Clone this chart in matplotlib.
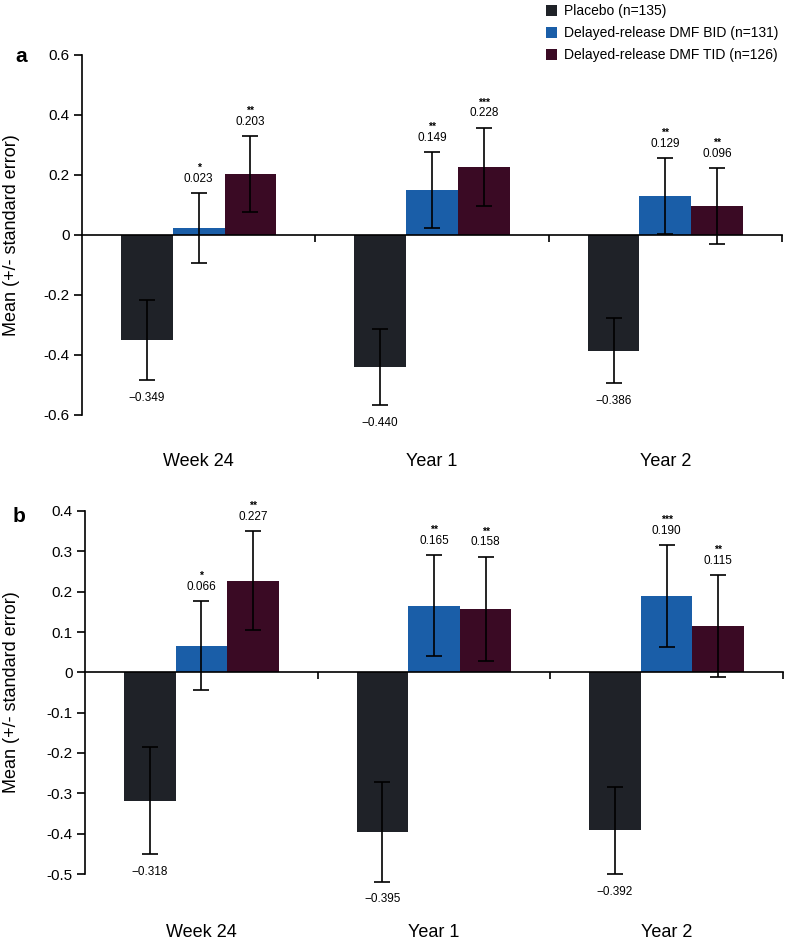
import matplotlib
matplotlib.use("Agg")
import matplotlib.pyplot as plt
import matplotlib.transforms as mtransforms
from matplotlib.patches import Patch
import numpy as np

plt.rcParams['font.family'] = ['Liberation Sans', 'DejaVu Sans']

groups = ["Week 24", "Year 1", "Year 2"]
series = ["Placebo (n=135)", "Delayed-release DMF BID (n=131)", "Delayed-release DMF TID (n=126)"]
colors = ["#1f2228", "#1a5ea8", "#3a0a24"]

# Panel a
a_means = [[-0.349, -0.440, -0.386],
           [0.023, 0.149, 0.129],
           [0.203, 0.228, 0.096]]
a_se = [[0.134, 0.128, 0.108],
        [0.117, 0.127, 0.127],
        [0.126, 0.130, 0.126]]
a_stars = [["", "", ""],
           ["*", "**", "**"],
           ["**", "***", "**"]]
a_yticks = [0.6, 0.4, 0.2, 0, -0.2, -0.4, -0.6]
a_yticklabels = ["0.6", "0.4", "0.2", "0", "-0.2", "-0.4", "-0.6"]

# Panel b
b_means = [[-0.318, -0.395, -0.392],
           [0.066, 0.165, 0.190],
           [0.227, 0.158, 0.115]]
b_se = [[0.132, 0.124, 0.108],
        [0.111, 0.125, 0.126],
        [0.123, 0.129, 0.126]]
b_stars = [["", "", ""],
           ["*", "**", "***"],
           ["**", "**", "**"]]
b_yticks = [0.4, 0.3, 0.2, 0.1, 0, -0.1, -0.2, -0.3, -0.4, -0.5]
b_yticklabels = ["0.4", "0.3", "0.2", "0.1", "0", "-0.1", "-0.2", "-0.3", "-0.4", "-0.5"]

W, H = 787, 942
fig = plt.figure(figsize=(W / 100, H / 100), dpi=100)

def fig_rect(l, r, t, b):
    return [l / W, 1 - b / H, (r - l) / W, (b - t) / H]

ax_a = fig.add_axes(fig_rect(82, 782, 55, 415))
ax_b = fig.add_axes(fig_rect(85, 783, 511, 874))

bw = 0.222

def draw(ax, means, ses, stars, yticks, yticklabels, ylim, label_y):
    x = np.arange(len(groups)) + 0.5
    for i in range(3):
        xs = x + (i - 1) * bw
        ax.bar(xs, means[i], width=bw, color=colors[i], edgecolor='none', zorder=2)
        eb = ax.errorbar(xs, means[i], yerr=ses[i], fmt='none', ecolor='black',
                         elinewidth=1.2, capsize=6, capthick=1.2, zorder=3)
        for art in eb.lines[1] + eb.lines[2]:
            art.set_clip_on(False)
        for j in range(len(groups)):
            m, s, st = means[i][j], ses[i][j], stars[i][j]
            if m >= 0:
                ax.annotate(f"{m:.3f}", (xs[j], m + s), xytext=(0, 8),
                            textcoords='offset points', ha='center', va='baseline',
                            fontsize=8.5, annotation_clip=False)
                if st:
                    ax.annotate(st, (xs[j], m + s), xytext=(0, 16),
                                textcoords='offset points', ha='center', va='baseline',
                                fontsize=7.5, fontweight='bold', annotation_clip=False)
            else:
                ax.annotate(f"\u2212{abs(m):.3f}", (xs[j], m - s), xytext=(0, -15),
                            textcoords='offset points', ha='center', va='baseline',
                            fontsize=8.5, annotation_clip=False)
    ax.set_xlim(0, 3)
    ax.set_ylim(*ylim)
    ax.set_yticks(yticks)
    ax.set_yticklabels(yticklabels, fontsize=11)
    ax.spines['top'].set_visible(False)
    ax.spines['right'].set_visible(False)
    ax.spines['bottom'].set_position(('data', 0))
    ax.spines['bottom'].set_linewidth(1.2)
    ax.spines['left'].set_linewidth(1.2)
    ax.spines['bottom'].set_zorder(4)
    ax.set_xticks([1, 2, 3])
    ax.set_xticklabels([])
    ax.tick_params(axis='x', direction='out', length=5, width=1.2)
    ax.tick_params(axis='y', direction='out', length=6, width=1.2, pad=3)
    trans = mtransforms.blended_transform_factory(ax.transData, ax.transAxes)
    for j, g in enumerate(groups):
        ax.text(x[j], label_y, g, transform=trans, ha='center', va='center', fontsize=13)

draw(ax_a, a_means, a_se, a_stars, a_yticks, a_yticklabels, (-0.6, 0.6), -0.13)
draw(ax_b, b_means, b_se, b_stars, b_yticks, b_yticklabels, (-0.5, 0.4), -0.16)

fig.text(12 / W, 1 - 235 / H, "Mean (+/- standard error)", rotation=90,
         ha='center', va='center', fontsize=13)
fig.text(12 / W, 1 - 692 / H, "Mean (+/- standard error)", rotation=90,
         ha='center', va='center', fontsize=13)

fig.text(15 / W, 1 - 56 / H, "a", fontsize=15, fontweight='bold', ha='left', va='center')
fig.text(13 / W, 1 - 516 / H, "b", fontsize=15, fontweight='bold', ha='left', va='center')

handles = [Patch(facecolor=c, edgecolor='none') for c in colors]
fig.legend(handles, series, loc='upper left', bbox_to_anchor=(538 / W, 1 + 4 / H),
           frameon=False, fontsize=10, handlelength=0.8, handleheight=0.8,
           handletextpad=0.5, labelspacing=0.57, borderaxespad=0.2)

fig.savefig("out.png", dpi=100)
